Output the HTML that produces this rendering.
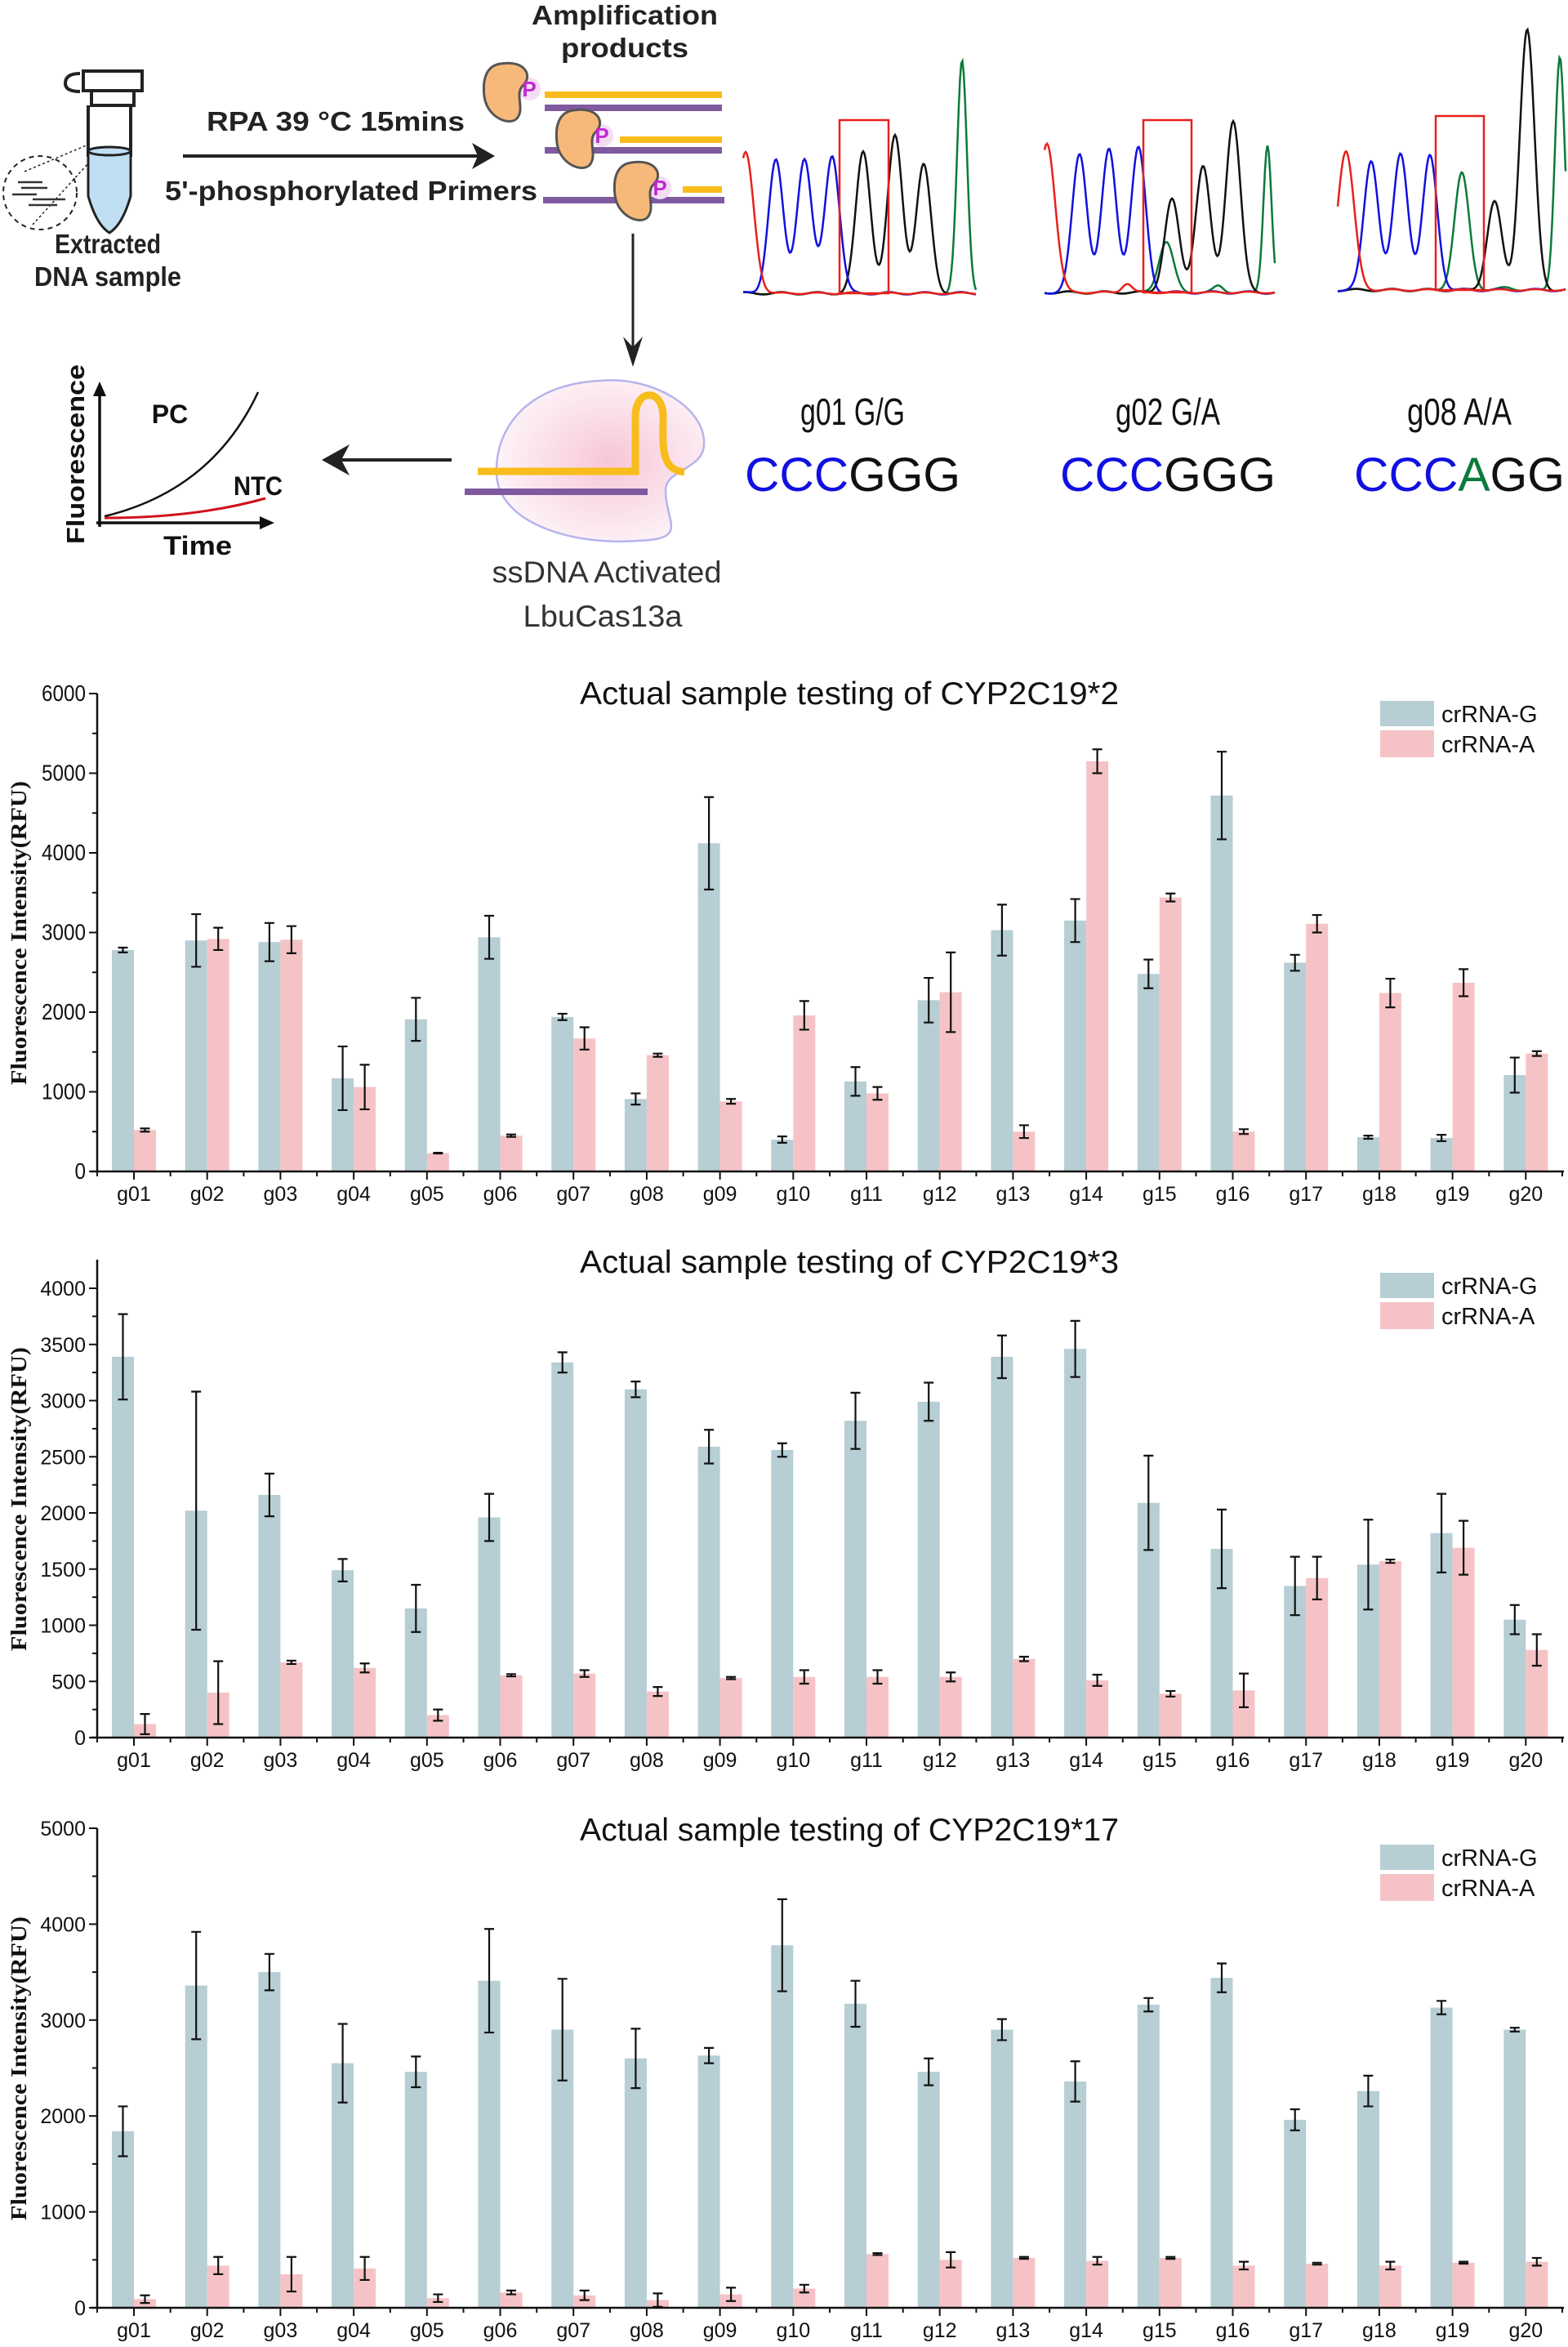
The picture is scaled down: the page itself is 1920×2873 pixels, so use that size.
<!DOCTYPE html>
<html><head><meta charset="utf-8">
<style>
html,body{margin:0;padding:0;background:#fff;}
svg{display:block;}
</style></head>
<body>
<svg id="s" xmlns="http://www.w3.org/2000/svg" width="1920" height="2873" viewBox="0 0 1920 2873">
<defs>
<radialGradient id="pk" cx="0.55" cy="0.5" r="0.55">
<stop offset="0" stop-color="#f7c6d8"/><stop offset="1" stop-color="#fdf3f7"/>
</radialGradient>
</defs>
<rect width="1920" height="2873" fill="#fff"/>
<g stroke="#222" stroke-width="4" fill="none">
<rect x="102" y="87" width="72" height="24" fill="#fff"/>
<path d="M98,90 q-18,0 -18,12 q0,10 18,10"/>
<rect x="112" y="111" width="52" height="18" fill="#fff"/>
<path d="M108,129 L108,190 L160,190 L160,129" />
</g>
<path d="M108,185 L160,185 L160,240 Q150,275 134,285 Q118,275 108,240 Z" fill="#bfe0f2" stroke="#222" stroke-width="3"/>
<ellipse cx="134" cy="185" rx="26" ry="5" fill="#bfe0f2" stroke="#222" stroke-width="3"/>
<circle cx="49" cy="236" r="45" fill="none" stroke="#222" stroke-width="2" stroke-dasharray="6,5"/>
<path d="M30,210 L108,177 M40,275 L108,200" stroke="#222" stroke-width="1.5" stroke-dasharray="3,3" fill="none"/>
<g stroke="#333" stroke-width="2.5">
<line x1="22" y1="223" x2="52" y2="223"/><line x1="26" y1="230" x2="58" y2="230"/>
<line x1="15" y1="238" x2="45" y2="238"/><line x1="40" y1="244" x2="80" y2="244"/>
<line x1="35" y1="251" x2="70" y2="251"/>
</g>
<g font-family="Liberation Sans,sans-serif" font-weight="bold" fill="#222" font-size="33">
<text x="132" y="310" text-anchor="middle" textLength="130" lengthAdjust="spacingAndGlyphs">Extracted</text>
<text x="132" y="350" text-anchor="middle" textLength="180" lengthAdjust="spacingAndGlyphs">DNA sample</text>
<text x="253" y="160" textLength="316" lengthAdjust="spacingAndGlyphs">RPA  39 °C 15mins</text>
<text x="202" y="245" textLength="456" lengthAdjust="spacingAndGlyphs">5'-phosphorylated Primers</text>
<text x="765" y="30" text-anchor="middle" textLength="228" lengthAdjust="spacingAndGlyphs">Amplification</text>
<text x="765" y="70" text-anchor="middle" textLength="156" lengthAdjust="spacingAndGlyphs">products</text>
</g>
<line x1="224" y1="191" x2="585" y2="191" stroke="#222" stroke-width="4"/>
<path d="M606,191 L578,175 L585,191 L578,207 Z" fill="#222"/>
<g stroke-width="8">
<line x1="667" y1="116" x2="884" y2="116" stroke="#f8bc1c"/>
<line x1="667" y1="132" x2="884" y2="132" stroke="#7f5aa0"/>
<line x1="759" y1="171" x2="884" y2="171" stroke="#f8bc1c"/>
<line x1="667" y1="184" x2="884" y2="184" stroke="#7f5aa0"/>
<line x1="836" y1="232" x2="884" y2="232" stroke="#f8bc1c"/>
<line x1="665" y1="245" x2="887" y2="245" stroke="#7f5aa0"/>
</g>
<g id="cas"></g>
<line x1="775" y1="286" x2="775" y2="425" stroke="#222" stroke-width="3"/>
<path d="M775,449 L763,412 L775,425 L787,412 Z" fill="#222"/>
<g id="chrom" fill="none" stroke-width="2.5"></g>
<g fill="none" stroke="#e8201c" stroke-width="2.5">
<rect x="1028" y="147" width="60" height="212"/>
<rect x="1400" y="147" width="59" height="211"/>
<rect x="1758" y="142" width="59" height="213"/>
</g>
<g font-family="Liberation Sans,sans-serif" font-size="46" text-anchor="middle" fill="#111">
<text x="1044" y="520" textLength="128" lengthAdjust="spacingAndGlyphs">g01 G/G</text>
<text x="1430" y="520" textLength="128" lengthAdjust="spacingAndGlyphs">g02 G/A</text>
<text x="1787" y="520" textLength="128" lengthAdjust="spacingAndGlyphs">g08 A/A</text>
</g>
<g font-family="Liberation Sans,sans-serif" font-size="58">
<text x="912" y="601" textLength="264" lengthAdjust="spacingAndGlyphs"><tspan fill="#1010e0">CCC</tspan><tspan fill="#111">GGG</tspan></text>
<text x="1298" y="601" textLength="264" lengthAdjust="spacingAndGlyphs"><tspan fill="#1010e0">CCC</tspan><tspan fill="#111">GGG</tspan></text>
<text x="1658" y="601" textLength="258" lengthAdjust="spacingAndGlyphs"><tspan fill="#1010e0">CCC</tspan><tspan fill="#0a7a3a">A</tspan><tspan fill="#111">GG</tspan></text>
</g>
<path d="M735,466 C800,460 865,500 862,545 C860,575 815,575 815,600 C815,640 845,660 780,662 C700,668 610,640 608,580 C606,520 650,470 735,466 Z" fill="url(#pk)" stroke="#b7b3ee" stroke-width="2.5"/>
<path d="M585,577 L778,577 L778,510 C778,475 812,475 812,510 C812,545 808,575 838,578" fill="none" stroke="#f8bc1c" stroke-width="9"/>
<line x1="569" y1="602" x2="793" y2="602" stroke="#7f5aa0" stroke-width="8"/>
<g font-family="Liberation Sans,sans-serif" font-size="37" fill="#333" text-anchor="middle">
<text x="743" y="713" textLength="281" lengthAdjust="spacingAndGlyphs">ssDNA Activated</text>
<text x="738" y="767" textLength="195" lengthAdjust="spacingAndGlyphs">LbuCas13a</text>
</g>
<line x1="418" y1="563" x2="553" y2="563" stroke="#222" stroke-width="4"/>
<path d="M394,563 L428,544 L418,563 L428,582 Z" fill="#222"/>
<g stroke="#111" stroke-width="3.5" fill="none">
<line x1="122" y1="645" x2="122" y2="478"/>
<line x1="118" y1="640" x2="325" y2="640"/>
</g>
<path d="M122,467 L114,485 L130,485 Z" fill="#111"/>
<path d="M336,640 L318,632 L318,648 Z" fill="#111"/>
<path d="M128,632 Q260,600 316,480" fill="none" stroke="#111" stroke-width="2.5"/>
<path d="M128,634 Q240,634 325,610" fill="none" stroke="#d0101a" stroke-width="3"/>
<g font-family="Liberation Sans,sans-serif" font-weight="bold" fill="#111" font-size="32">
<text x="208" y="518" text-anchor="middle">PC</text>
<text x="316" y="606" text-anchor="middle" textLength="60" lengthAdjust="spacingAndGlyphs">NTC</text>
<text x="242" y="679" text-anchor="middle" textLength="84" lengthAdjust="spacingAndGlyphs">Time</text>
<text transform="translate(103,556) rotate(-90)" text-anchor="middle" font-size="31" textLength="220" lengthAdjust="spacingAndGlyphs">Fluorescence</text>
</g>
<g id="charts"></g>
</svg>
<script>
var NS="http://www.w3.org/2000/svg";
function el(p,t,a,txt){var e=document.createElementNS(NS,t);for(var k in a)e.setAttribute(k,a[k]);if(txt!==undefined)e.textContent=txt;p.appendChild(e);return e;}
var cas=document.getElementById('cas');
[[618,113],[707,170],[778,234]].forEach(function(c){
 var x=c[0],y=c[1];
 el(cas,'circle',{cx:x+30,cy:y-4,r:14,fill:'#f4dcf4'});
 el(cas,'path',{d:'M'+(x-5)+','+(y-35)+' C'+(x+25)+','+(y-40)+' '+(x+35)+','+(y-20)+' '+(x+22)+','+(y-8)+' C'+(x+12)+','+(y+2)+' '+(x+25)+','+(y+20)+' '+(x+15)+','+(y+32)+' C'+(x+5)+','+(y+42)+' '+(x-22)+','+(y+30)+' '+(x-25)+','+(y+5)+' C'+(x-28)+','+(y-20)+' '+(x-20)+','+(y-33)+' '+(x-5)+','+(y-35)+' Z',fill:'#f7b97a',stroke:'#555',"stroke-width":3});
 el(cas,'text',{x:x+30,y:y+5,"font-family":"Liberation Sans,sans-serif","font-size":26,"font-weight":"bold",fill:'#c02ad0',"text-anchor":"middle"},'P');
});
var ch=document.getElementById('chrom');
function trace(x0,x1,base,peaks,color,extra){
 var d='';for(var x=x0;x<=x1;x+=1.5){var y=base;peaks.forEach(function(p){var s=p[2]||9;y-=(base-p[1])*Math.exp(-Math.pow((x-p[0])/s,2)/2);});
 y+= (extra||0)*Math.sin(x/7);d+=(d?'L':'M')+x.toFixed(1)+','+y.toFixed(1);}
 el(ch,'path',{d:d,stroke:color});
}
function panel(x0,x1,b,red,blue,black,green){
 trace(x0,x1,b,green,'#0a7a3a',1.2);trace(x0,x1,b,black,'#111',1.5);trace(x0,x1,b,blue,'#1010e0',1.5);trace(x0,x1,b,red,'#e8201c',1);
}
panel(910,1195,359,[[913,187,10]],[[950,196],[985,194],[1019,190]],[[1057,185],[1096,166],[1131,202]],[[1178,75,6]]);
panel(1279,1561,358,[[1282,175,10],[1380,347,6]],[[1322,188],[1358,183],[1394,181]],[[1435,244],[1473,203],[1510,147]],[[1428,296],[1492,350,6],[1552,177,5]]);
panel(1638,1918,355,[[1648,185,10]],[[1679,196],[1715,188],[1751,191]],[[1830,247],[1870,36,9]],[[1790,212],[1845,352,8],[1910,69,6]]);
var C=document.getElementById('charts');
var G='#b6ced4',A='#f5c3c6';
var charts=[
{title:'Actual sample testing of CYP2C19*2',tY:862,top:849,zero:1434,max:6000,step:1000,minor:500,yTitle:1142,leg:858,sc:(1434-849)/6000,
d:[[2780,30,520,20],[2900,330,2920,140],[2880,240,2910,170],[1170,400,1060,280],[1910,270,230,5],[2940,270,450,15],[1940,40,1670,140],[910,70,1460,20],[4120,580,880,30],[400,40,1960,180],[1130,180,980,80],[2150,280,2250,500],[3030,320,500,80],[3150,270,5150,150],[2480,180,3440,50],[4720,550,500,30],[2620,100,3110,110],[430,20,2240,180],[420,40,2370,170],[1210,220,1480,30]]},
{title:'Actual sample testing of CYP2C19*3',tY:1558,top:1542,zero:2127,max:4000,step:500,minor:250,yTitle:1835,leg:1558,sc:(2127-1577)/4000,
d:[[3390,380,120,90],[2020,1060,400,280],[2160,190,670,15],[1490,100,620,40],[1150,210,200,50],[1960,210,555,10],[3340,90,570,30],[3100,70,410,40],[2590,150,530,10],[2560,60,540,60],[2820,250,540,60],[2990,170,540,40],[3390,190,700,20],[3460,250,510,50],[2090,420,390,25],[1680,350,420,150],[1350,260,1420,190],[1540,400,1570,15],[1820,350,1690,240],[1050,130,780,140]]},
{title:'Actual sample testing of CYP2C19*17',tY:2253,top:2238,zero:2825,max:5000,step:1000,minor:500,yTitle:2532,leg:2258,sc:(2825-2238)/5000,
d:[[1840,260,90,40],[3360,560,440,90],[3500,190,350,180],[2550,410,410,120],[2460,160,100,40],[3410,540,160,20],[2900,530,130,50],[2600,310,80,70],[2630,80,140,70],[3780,480,200,40],[3170,240,560,10],[2460,140,500,80],[2900,110,520,10],[2360,210,490,40],[3160,70,520,10],[3440,150,440,40],[1960,110,460,10],[2260,160,440,40],[3130,70,470,10],[2900,20,480,40]]}
];
var AX=119,PITCH=89.7,BW=27;
charts.forEach(function(c){
 var sc=c.sc;
 function Y(v){return c.zero-v*sc;}
 c.d.forEach(function(r,i){
  var cx=AX+45+i*PITCH;
  el(C,'rect',{x:cx-BW,y:Y(r[0]),width:BW,height:r[0]*sc,fill:G});
  el(C,'rect',{x:cx,y:Y(r[2]),width:BW,height:r[2]*sc,fill:A});
  [[cx-BW/2,r[0],r[1]],[cx+BW/2,r[2],r[3]]].forEach(function(e){
   var y1=Y(e[1]+e[2]),y2=Y(e[1]-e[2]);
   el(C,'path',{d:'M'+e[0]+','+y1+'V'+y2+'M'+(e[0]-6)+','+y1+'h12M'+(e[0]-6)+','+y2+'h12',stroke:'#111',"stroke-width":2.2,fill:'none'});
  });
  el(C,'text',{x:cx,y:c.zero+36,"font-family":"Liberation Sans,sans-serif","font-size":25,"text-anchor":"middle",fill:'#111'},'g'+(i<9?'0':'')+(i+1));
 });
 el(C,'line',{x1:AX,y1:c.top,x2:AX,y2:c.zero+1,stroke:'#111',"stroke-width":2.5});
 el(C,'line',{x1:AX-8,y1:c.zero,x2:1915,y2:c.zero,stroke:'#111',"stroke-width":2.5});
 for(var k=0;k<=20;k++){var x=AX+k*PITCH;el(C,'line',{x1:x,y1:c.zero,x2:x,y2:c.zero+6,stroke:'#111',"stroke-width":2});}
 for(var k=0;k<20;k++){var x=AX+45+k*PITCH;el(C,'line',{x1:x,y1:c.zero,x2:x,y2:c.zero+10,stroke:'#111',"stroke-width":2});}
 for(var v=0;v<=c.max+1;v+=c.minor){var y=Y(v);var maj=(v%c.step===0);
  el(C,'line',{x1:AX-(maj?10:6),y1:y,x2:AX,y2:y,stroke:'#111',"stroke-width":2});
  if(maj){var t=el(C,'text',{x:AX-14,y:y+9,"font-family":"Liberation Sans,sans-serif","font-size":c.max===6000?28:25,"text-anchor":"end",fill:'#111'},String(v));
   if(c.max===6000){t.setAttribute('textLength',String(v).length*13.5);t.setAttribute('lengthAdjust','spacingAndGlyphs');}}
 }
 el(C,'text',{transform:'translate(32,'+c.yTitle+') rotate(-90)',"font-family":"Liberation Serif,serif","font-weight":"bold","font-size":27,"text-anchor":"middle",fill:'#111',textLength:372,lengthAdjust:'spacingAndGlyphs'},'Fluorescence Intensity(RFU)');
 el(C,'text',{x:1040,y:c.tY,"font-family":"Liberation Sans,sans-serif","font-size":39,"text-anchor":"middle",fill:'#111',textLength:660,lengthAdjust:'spacingAndGlyphs'},c.title);
 el(C,'rect',{x:1690,y:c.leg,width:66,height:31,fill:G});
 el(C,'rect',{x:1690,y:c.leg+36,width:66,height:33,fill:A});
 el(C,'text',{x:1765,y:c.leg+26,"font-family":"Liberation Sans,sans-serif","font-size":29,fill:'#111'},'crRNA-G');
 el(C,'text',{x:1765,y:c.leg+63,"font-family":"Liberation Sans,sans-serif","font-size":29,fill:'#111'},'crRNA-A');
});
</script>
</body></html>
